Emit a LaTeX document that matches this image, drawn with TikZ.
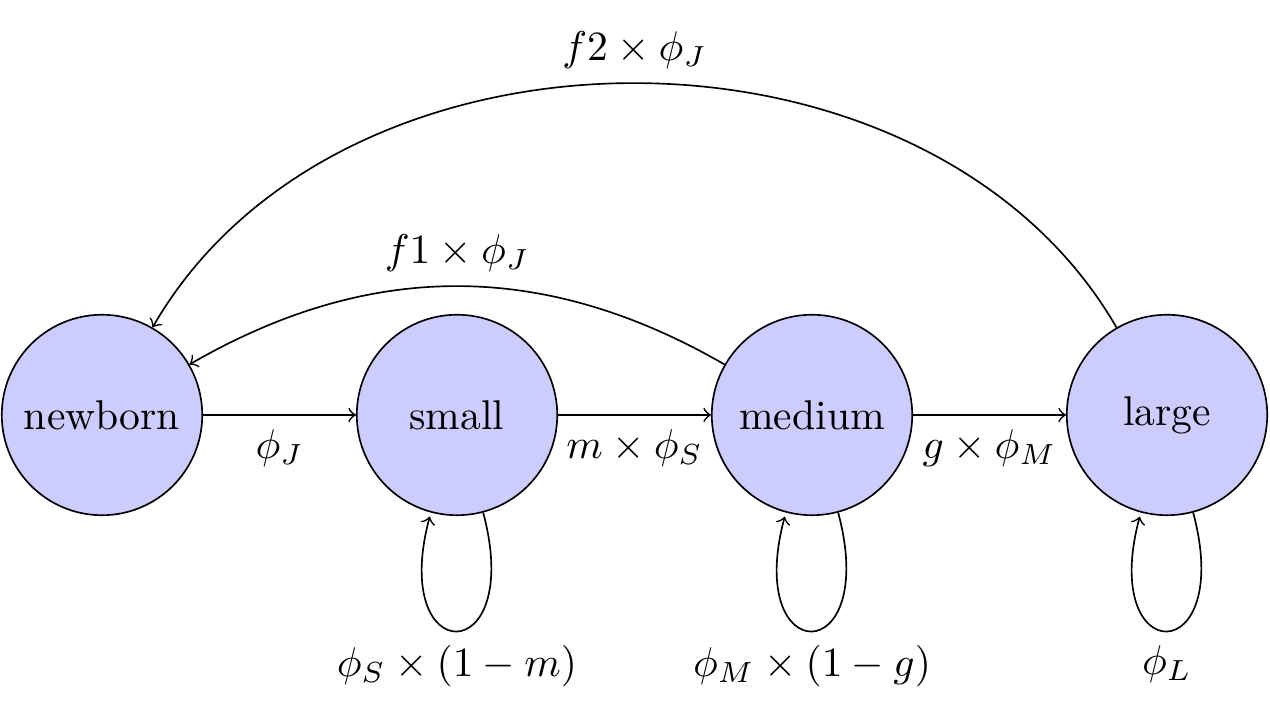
\documentclass[tikz,border=0pt]{standalone}
\usetikzlibrary{automata,positioning}
\begin{document}
\begin{tikzpicture}[
  statebox/.style={circle,draw,fill=blue!20,minimum size=48.2pt,inner sep=0pt},
  >=to, every edge/.style={draw,->}
]
\useasboundingbox (-24.53pt,-69.49pt) rectangle (280.84pt,99.78pt);
\node[statebox] (n) at (0,0) {newborn};
\node[statebox] (s) at (3cm,0) {small};
\node[statebox] (m) at (6cm,0) {medium};
\node[statebox] (l) at (9cm,0) {large};
\path[->]
  (n) edge node[below] {$\phi_J$} (s)
  (s) edge node[below] {$m\times\phi_S$} (m)
  (m) edge node[below] {$g\times\phi_M$} (l)
  (s) edge[loop below] node[below] {$\phi_S\times(1-m)$} (s)
  (m) edge[loop below] node[below] {$\phi_M\times(1-g)$} (m)
  (l) edge[loop below] node[below] {$\phi_L$} (l)
  (m) edge[bend right=30] node[above] {$f1\times\phi_J$} (n)
  (l) edge[bend right=60] node[above] {$f2\times\phi_J$} (n);
\end{tikzpicture}
\end{document}
